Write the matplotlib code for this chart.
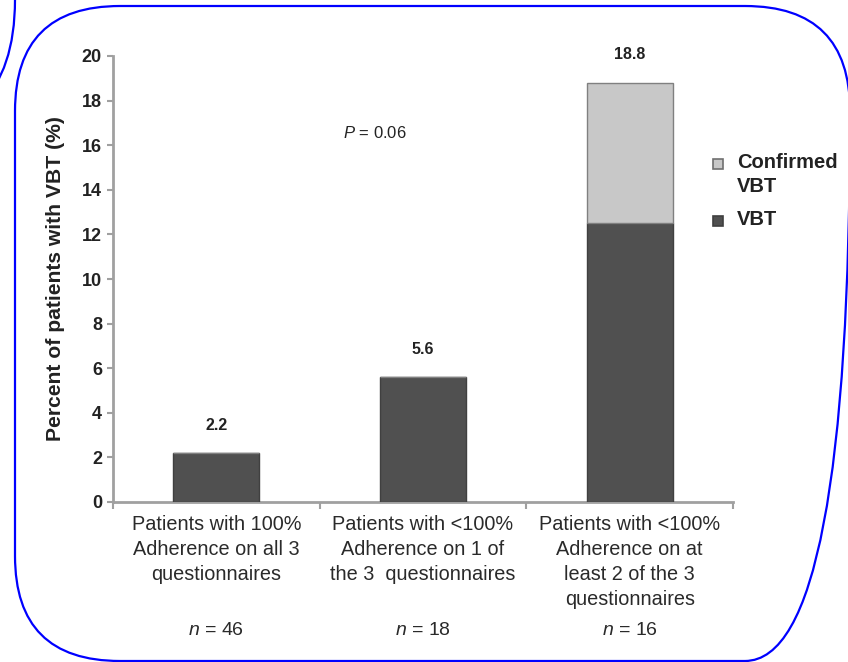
import matplotlib
matplotlib.use("Agg")
import matplotlib.pyplot as plt
from matplotlib.patches import FancyBboxPatch

plt.rcParams['font.family'] = ['Liberation Sans', 'DejaVu Sans']
plt.rcParams['mathtext.fontset'] = 'custom'
plt.rcParams['mathtext.it'] = 'Liberation Sans:italic'
plt.rcParams['mathtext.rm'] = 'Liberation Sans'

# data
categories = ["Patients with 100%\nAdherence on all 3\nquestionnaires",
              "Patients with <100%\nAdherence on 1 of\nthe 3  questionnaires",
              "Patients with <100%\nAdherence on at\nleast 2 of the 3\nquestionnaires"]
vbt = [2.2, 5.6, 12.5]
confirmed = [0.0, 0.0, 6.3]
totals = [2.2, 5.6, 18.8]
n_patients = [46, 18, 16]
p_text = "$P$ = 0.06"
legend_labels = ["Confirmed\nVBT", "VBT"]

dark = "#505050"
light = "#c8c8c8"
spine = "#a0a0a0"
txt = "#222222"

fig = plt.figure(figsize=(8.48, 6.62), dpi=100)

# blue rounded frames, drawn in pixel coords
bg = fig.add_axes([0, 0, 1, 1])
bg.set_xlim(0, 848)
bg.set_ylim(662, 0)
bg.axis("off")
bg.add_patch(FancyBboxPatch((15, 6), 835, 655,
                            boxstyle="round,pad=0,rounding_size=105",
                            fill=False, ec="#0000ff", lw=1.6))
bg.add_patch(FancyBboxPatch((-300, -300), 315, 440,
                            boxstyle="round,pad=0,rounding_size=140",
                            fill=False, ec="#0000ff", lw=1.6))

ax = fig.add_axes([113/848, 1-502/662, 620/848, 446/662])
ax.patch.set_visible(False)
x = range(len(categories))
w = 0.415
ax.bar(x, vbt, width=w, color=dark, edgecolor="#404040", lw=1, zorder=3)
ax.bar(x, confirmed, width=w, bottom=vbt, color=light, edgecolor="#808080", lw=1, zorder=3)

for i, t in enumerate(totals):
    ax.annotate(f"{t}", (i, t), xytext=(0, 20), textcoords="offset points",
                ha="center", va="center", fontsize=11.5, fontweight="bold", color=txt)

ax.set_xlim(-0.5, 2.5)
ax.set_ylim(0, 20)
ax.set_yticks(range(0, 21, 2))
ax.tick_params(axis="y", labelsize=13, length=4, width=1.5, color=spine, labelcolor=txt, pad=4)
for lab in ax.get_yticklabels():
    lab.set_fontweight("bold")
ax.set_xticks(list(x))
ax.set_xticklabels(categories, fontsize=14.3, color="#2a2a2a", linespacing=1.42)
ax.tick_params(axis="x", which="major", length=0, pad=9)
ax.set_xticks([-0.5, 0.5, 1.5, 2.5], minor=True)
ax.tick_params(axis="x", which="minor", length=5, width=1.5, color=spine)

for s in ["top", "right"]:
    ax.spines[s].set_visible(False)
for s in ["left", "bottom"]:
    ax.spines[s].set_color(spine)
    ax.spines[s].set_linewidth(2)

ax.set_ylabel("Percent of patients with VBT (%)", fontsize=15.2, fontweight="bold",
              color=txt, labelpad=12)

for i, n in enumerate(n_patients):
    ax.text(i, -0.287, f"$n$ = {n}", transform=ax.get_xaxis_transform(),
            ha="center", va="center", fontsize=14, color="#2a2a2a")

fig.text(375/848, 1-133/662, p_text, ha="center", va="center", fontsize=12, color=txt)

# legend: square swatch next to the first line of each label
legend_colors = [(light, "#707070"), (dark, "#404040")]
legend_y = [164, 221]
for (fc, ec), lab, yy in zip(legend_colors, legend_labels, legend_y):
    bg.plot(718, yy, ls="none", marker="s", ms=7, mfc=fc, mec=ec, mew=1.2)
    fig.text(737/848, 1-(yy-11)/662, lab, ha="left", va="top", fontsize=14.5,
             fontweight="bold", color=txt, linespacing=1.3)

fig.savefig("out.png", dpi=100)
